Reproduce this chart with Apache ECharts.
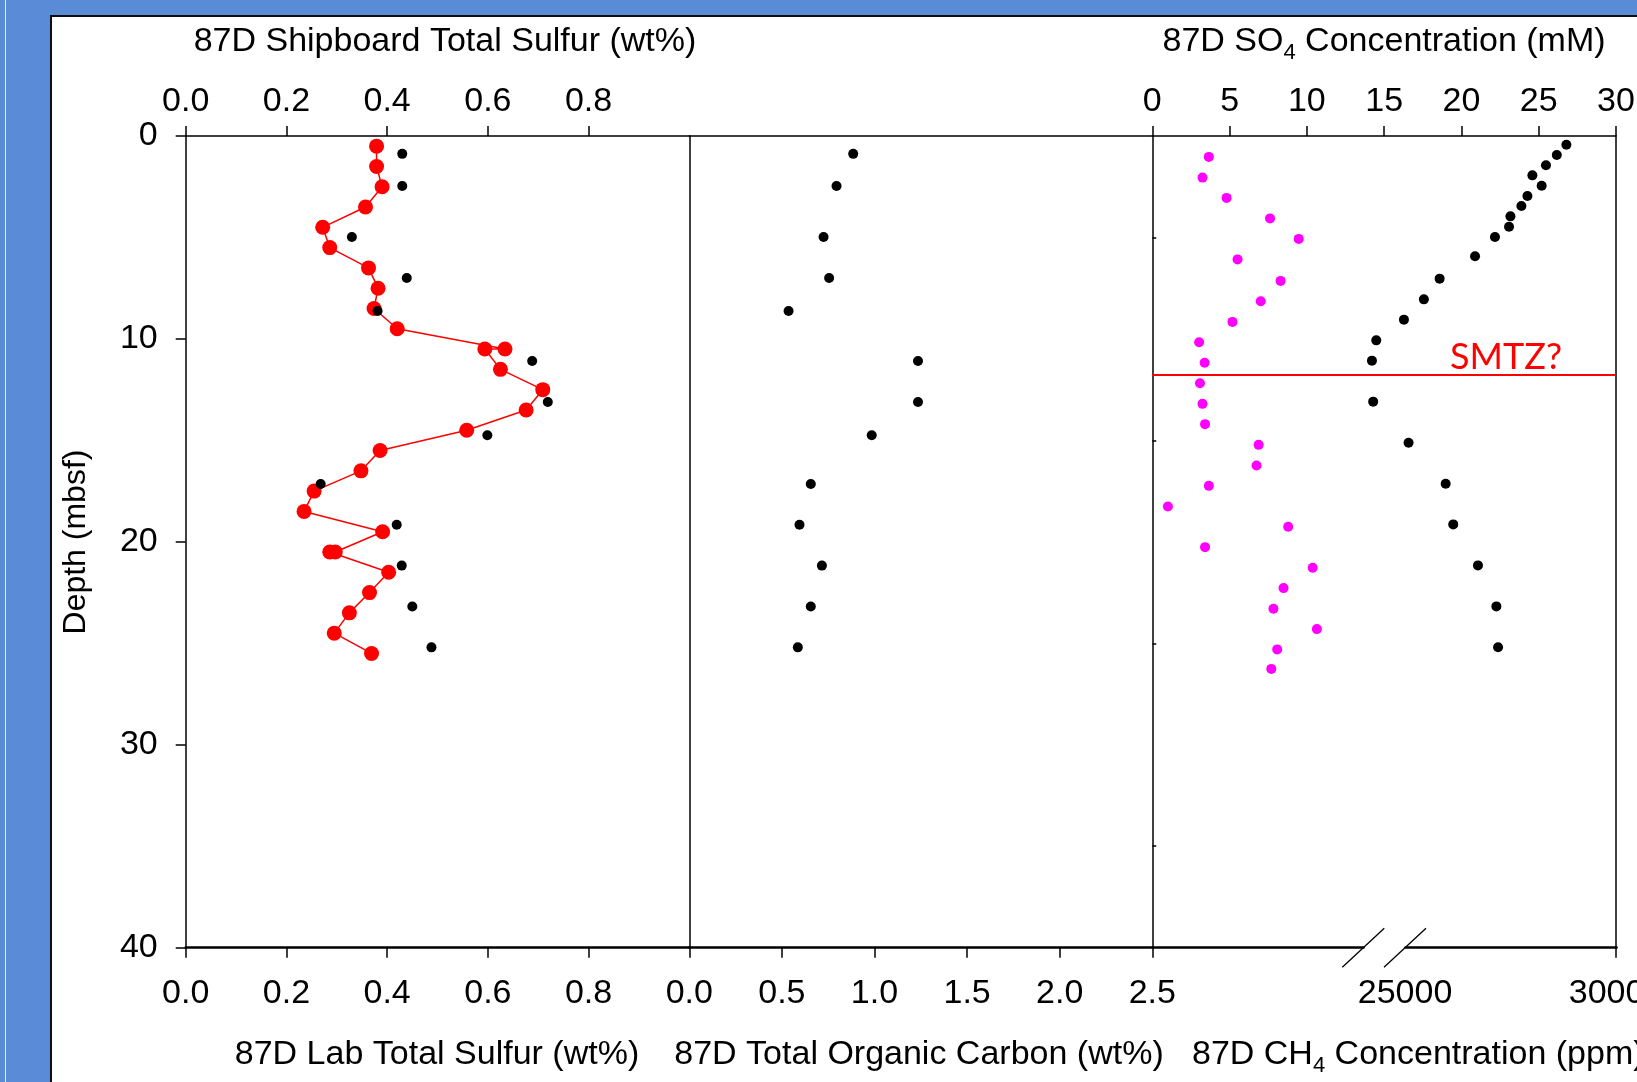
<!DOCTYPE html>
<html>
<head>
<meta charset="utf-8">
<title>Site 87D sediment profiles</title>
<script src="https://cdn.jsdelivr.net/npm/echarts@6/dist/echarts.min.js"></script>
<style>
  html, body { margin: 0; padding: 0; width: 1637px; height: 1082px; overflow: hidden; background: #5A8BD6; }
  #edge { position: absolute; left: 5px; top: 0; width: 1px; height: 1082px; background: #e4ecf8; }
  #panel { position: absolute; left: 50px; top: 15px; width: 1600px; height: 1100px; background: #fff;
           box-sizing: border-box; border-left: 2.5px solid #0d0d0d; border-top: 2px solid #0d0d0d; }
  #chart { position: absolute; left: 0; top: 0; width: 1637px; height: 1082px; }
</style>
</head>
<body>
<div id="edge"></div>
<div id="panel"></div>
<div id="chart"></div>
<script>
// Lab total sulfur (wt%) — red profile, depth in mbsf
const labDepth  = [0.5, 1.5, 2.5, 3.5, 4.5, 5.5, 6.5, 7.5, 8.5, 9.5, 10.5, 10.5, 11.5, 12.5,
                   13.5, 14.5, 15.5, 16.5, 17.5, 18.5, 19.5, 20.5, 20.5, 21.5, 22.5, 23.5, 24.5, 25.5];
const labSulfur = [0.379, 0.379, 0.390, 0.357, 0.272, 0.286, 0.363, 0.382, 0.374, 0.420, 0.634, 0.594, 0.625, 0.709,
                   0.676, 0.558, 0.386, 0.348, 0.255, 0.235, 0.391, 0.297, 0.286, 0.403, 0.365, 0.325, 0.295, 0.369];

// Shipboard samples: total sulfur (wt%) and total organic carbon (wt%)
const shipDepth  = [0.88, 2.46, 4.98, 7.0, 8.62, 11.09, 13.11, 14.75, 17.15, 19.16, 21.17, 23.19, 25.2];
const shipSulfur = [0.430, 0.430, 0.330, 0.439, 0.381, 0.688, 0.719, 0.599, 0.268, 0.419, 0.429, 0.450, 0.488];
const toc        = [0.885, 0.795, 0.725, 0.755, 0.536, 1.235, 1.235, 0.985, 0.656, 0.595, 0.716, 0.656, 0.586];

// Pore-water sulfate (mM)
const so4Depth = [0.43, 0.94, 1.44, 1.94, 2.45, 2.96, 3.45, 3.96, 4.47, 4.98, 5.93, 7.03, 8.05, 9.05,
                  10.07, 11.07, 13.09, 15.12, 17.14, 19.14, 21.16, 23.18, 25.19];
const so4      = [26.79, 26.17, 25.47, 24.59, 25.19, 24.27, 23.88, 23.17, 23.08, 22.17, 20.88, 18.59, 17.57, 16.28,
                  14.49, 14.21, 14.29, 16.58, 18.98, 19.47, 21.07, 22.26, 22.37];

// Headspace methane (ppm)
const ch4Depth = [1.03, 2.05, 3.05, 4.06, 5.07, 6.08, 7.14, 8.14, 9.16, 10.16, 11.17, 12.18, 13.2,
                  14.2, 15.22, 16.24, 17.24, 18.26, 19.26, 20.26, 21.28, 22.28, 23.3, 24.3, 25.3, 26.26];
const ch4      = [1340, 1190, 1760, 2790, 3470, 2020, 3040, 2570, 1900, 1110, 1240, 1130, 1190,
                  1250, 2520, 2470, 1340, 370, 3220, 1250, 3800, 3110, 2870, 3900, 2960, 2820];

// Sulfate–methane transition zone (mbsf)
const smtzDepth = 11.75;

// Axis settings
const sulfurTicks = [0, 0.2, 0.4, 0.6, 0.8];
const ch4Labels = [25000, 30000];
const ch4TickMarks = [30000];
const ch4Break = [5000, 25000];
const depthMinorTicks = [5, 15, 25, 35];

const FONT = "'Liberation Sans', Arial, sans-serif";
const pairs = (xs, ys) => xs.map((x, i) => [x, ys[i]]);

const TOP = 136, H = 811.7;
const line = (w) => ({ show: true, onZero: false, lineStyle: { color: '#000', width: w } });
const tick = (extra) => Object.assign({ show: true, length: 10, lineStyle: { color: '#000', width: 1.5 } }, extra || {});
const label = (extra) => Object.assign({ show: true, color: '#000', fontFamily: FONT, fontSize: 34 }, extra || {});
const noTick = { show: false };
const noLabel = { show: false };
const noSplit = { show: false };
const one = (v) => v.toFixed(1);

const depthAxis = (grid, extra) => Object.assign({
  type: 'value', gridIndex: grid, min: 0, max: 40, interval: 10, inverse: true,
  axisLine: line(1.5), axisTick: noTick, axisLabel: noLabel, splitLine: noSplit
}, extra);

const sub = (fs) => ({
  a: { fontSize: 34, fontFamily: FONT, fill: '#000', verticalAlign: 'middle' },
  s: { fontSize: fs, fontFamily: FONT, fill: '#000', verticalAlign: 'middle', padding: [22, 0, 0, 0] }
});
const titleText = (x, y, text, align, rich) => ({
  type: 'text', x: x, y: y, silent: true,
  style: { text: text, font: '34px ' + FONT, fill: '#000', align: align, verticalAlign: 'middle',
           textAlign: align, textVerticalAlign: 'middle', rich: rich }
});
const dot = (color) => ({ color: color, opacity: 1 });

const option = {
  animation: false,
  backgroundColor: 'transparent',
  grid: [
    { left: 185.7, top: TOP, width: 503.6, height: H, outerBoundsMode: 'none', containLabel: false },
    { left: 689.3, top: TOP, width: 463, height: H, outerBoundsMode: 'none', containLabel: false },
    { left: 1152.3, top: TOP, width: 463.7, height: H, outerBoundsMode: 'none', containLabel: false }
  ],
  xAxis: [
    { // 0: lab sulfur (bottom)
      type: 'value', gridIndex: 0, position: 'bottom', min: 0, max: 1,
      axisLine: line(2.5), axisTick: tick({ customValues: sulfurTicks }),
      axisLabel: label({ margin: 29, customValues: sulfurTicks, formatter: one }), splitLine: noSplit
    },
    { // 1: shipboard sulfur (top)
      type: 'value', gridIndex: 0, position: 'top', min: 0, max: 1,
      axisLine: line(1.5), axisTick: tick({ customValues: sulfurTicks }),
      axisLabel: label({ margin: 17, customValues: sulfurTicks, formatter: one }), splitLine: noSplit
    },
    { // 2: TOC (bottom)
      type: 'value', gridIndex: 1, position: 'bottom', min: 0, max: 2.5, interval: 0.5,
      axisLine: line(2.5), axisTick: tick(), axisLabel: label({ margin: 29, formatter: one }), splitLine: noSplit
    },
    { // 3: TOC panel top frame
      type: 'value', gridIndex: 1, position: 'top', min: 0, max: 1,
      axisLine: line(1.5), axisTick: noTick, axisLabel: noLabel, splitLine: noSplit
    },
    { // 4: sulfate (top)
      type: 'value', gridIndex: 2, position: 'top', min: 0, max: 30, interval: 5,
      axisLine: line(1.5), axisTick: tick(), axisLabel: label({ margin: 17 }), splitLine: noSplit
    },
    { // 5: methane (bottom, broken axis)
      type: 'value', gridIndex: 2, position: 'bottom', min: 0, max: 30000,
      breaks: [{ start: ch4Break[0], end: ch4Break[1], gap: '9%' }],
      breakArea: { show: false },
      axisLine: line(2.5), axisTick: tick({ customValues: ch4TickMarks }),
      axisLabel: label({ margin: 29, customValues: ch4Labels, formatter: (v) => String(v) }), splitLine: noSplit
    }
  ],
  yAxis: [
    depthAxis(0, { axisTick: tick(), axisLabel: label({ margin: 28 }) }),
    depthAxis(1),
    depthAxis(2, { axisTick: tick({ inside: true, length: 4, customValues: depthMinorTicks }) }),
    depthAxis(2, { position: 'right' })
  ],
  series: [
    {
      name: 'Lab Total Sulfur', type: 'line', xAxisIndex: 0, yAxisIndex: 0,
      data: pairs(labSulfur, labDepth), symbol: 'circle', symbolSize: 15, z: 3,
      itemStyle: dot('#ff0000'), lineStyle: { color: '#ff0000', width: 1.5 }, emphasis: { disabled: true }
    },
    {
      name: 'Shipboard Total Sulfur', type: 'scatter', xAxisIndex: 1, yAxisIndex: 0,
      data: pairs(shipSulfur, shipDepth), symbolSize: 10, z: 4, itemStyle: dot('#000')
    },
    {
      name: 'Total Organic Carbon', type: 'scatter', xAxisIndex: 2, yAxisIndex: 1,
      data: pairs(toc, shipDepth), symbolSize: 10, itemStyle: dot('#000')
    },
    {
      name: 'CH4', type: 'scatter', xAxisIndex: 5, yAxisIndex: 2,
      data: pairs(ch4, ch4Depth), symbolSize: 10, itemStyle: dot('#ff00ff')
    },
    {
      name: 'SO4', type: 'scatter', xAxisIndex: 4, yAxisIndex: 2,
      data: pairs(so4, so4Depth), symbolSize: 10, itemStyle: dot('#000'),
      markLine: {
        silent: true, symbol: ['none', 'none'], animation: false,
        lineStyle: { color: '#ff0000', width: 2, type: 'solid', opacity: 1 },
        emphasis: { disabled: true },
        label: { show: true, position: 'insideEndTop', formatter: 'SMTZ?', color: '#ff0000',
                 fontFamily: 'Lato', fontSize: 36, distance: [54, -1] },
        data: [{ yAxis: smtzDepth }]
      }
    },
    {
      // axis-break marks on the methane axis
      name: 'CH4 break', type: 'custom', xAxisIndex: 5, yAxisIndex: 2, clip: false, silent: true,
      data: ch4Break.map((v) => [v, 40]),
      renderItem: (params, api) => {
        const p = api.coord([api.value(0), api.value(1)]);
        return {
          type: 'line',
          shape: { x1: p[0] - 21, y1: p[1] + 19.5, x2: p[0] + 21, y2: p[1] - 19.5 },
          style: { stroke: '#000', lineWidth: 1.3 }
        };
      }
    }
  ],
  graphic: [
    titleText(445, 42, '87D Shipboard Total Sulfur (wt%)', 'center'),
    titleText(1384, 42, '{a|87D SO}{s|4}{a| Concentration (mM)}', 'center', sub(22)),
    titleText(437, 1055, '87D Lab Total Sulfur (wt%)', 'center'),
    titleText(919, 1055, '87D Total Organic Carbon (wt%)', 'center'),
    titleText(1192, 1055, '{a|87D CH}{s|4}{a| Concentration (ppm)}', 'left', sub(22)),
    {
      type: 'text', x: 76, y: 542, rotation: Math.PI / 2, silent: true,
      style: { text: 'Depth (mbsf)', font: '32px ' + FONT, fill: '#000', align: 'center', verticalAlign: 'middle',
               textAlign: 'center', textVerticalAlign: 'middle' }
    }
  ]
};

const chart = echarts.init(document.getElementById('chart'), null, { renderer: 'canvas' });
chart.setOption(option);
</script>
</body>
</html>
